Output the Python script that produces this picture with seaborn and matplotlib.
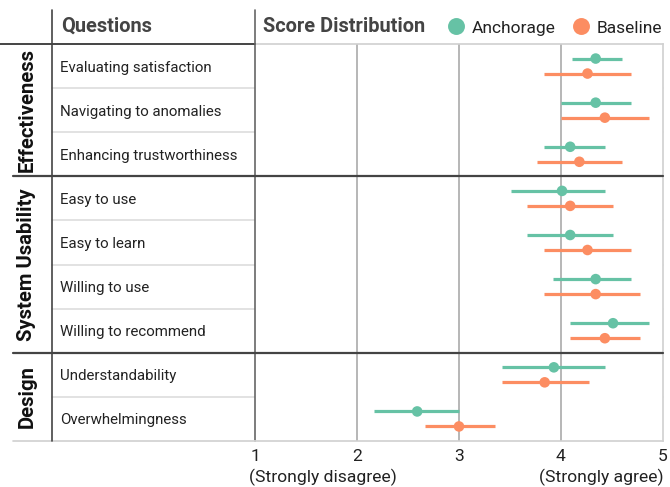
import matplotlib
matplotlib.use("Agg")
import matplotlib.pyplot as plt
import matplotlib.transforms as mtrans
from matplotlib.lines import Line2D
import seaborn as sns
import pandas as pd
import numpy as np

questions = ["Evaluating satisfaction", "Navigating to anomalies", "Enhancing trustworthiness",
             "Easy to use", "Easy to learn", "Willing to use", "Willing to recommend",
             "Understandability", "Overwhelmingness"]
groups = ["Effectiveness", "System Usability", "Design"]
group_sizes = [3, 4, 2]

anch_mean = [4.34, 4.34, 4.09, 4.01, 4.09, 4.34, 4.51, 3.93, 2.59]
anch_lo   = [4.11, 4.00, 3.83, 3.51, 3.67, 3.92, 4.09, 3.42, 2.17]
anch_hi   = [4.60, 4.69, 4.43, 4.43, 4.51, 4.69, 4.86, 4.43, 3.00]
base_mean = [4.26, 4.43, 4.18, 4.09, 4.26, 4.34, 4.43, 3.84, 3.00]
base_lo   = [3.83, 4.00, 3.76, 3.67, 3.83, 3.83, 4.09, 3.42, 2.67]
base_hi   = [4.69, 4.86, 4.60, 4.51, 4.69, 4.77, 4.77, 4.27, 3.35]

xticks = [1, 2, 3, 4, 5]
xtick_labels = ["1", "2", "3", "4", "5"]
series = ["Anchorage", "Baseline"]
colors = {"Anchorage": "#66c2a5", "Baseline": "#fc8d62"}

sns.set_theme(style="white")
plt.rcParams["font.family"] = ["Roboto", "DejaVu Sans"]

W, H = 670, 487
fig = plt.figure(figsize=(W / 100, H / 100), dpi=100)

def fx(px):
    return px / W

def fy(py):
    return 1 - py / H

L, R, T, B = 255, 663, 44, 441
ax = fig.add_axes([fx(L), fy(B), fx(R - L), (B - T) / H])

off = 0.17
rows = np.arange(len(questions))
df = pd.DataFrame({
    "row": np.concatenate([rows - off, rows + off]),
    "mean": anch_mean + base_mean,
    "lo": anch_lo + base_lo,
    "hi": anch_hi + base_hi,
    "series": ["Anchorage"] * len(questions) + ["Baseline"] * len(questions),
})

for s in series:
    d = df[df.series == s]
    ax.hlines(d["row"], d["lo"], d["hi"], color=colors[s], lw=2.3, zorder=3)
sns.scatterplot(data=df, x="mean", y="row", hue="series", palette=colors,
                s=58, edgecolor="none", zorder=4, ax=ax)

ax.set_xlim(1, 5)
ax.set_ylim(len(questions) - 0.5, -0.5)
ax.set_xticks(xticks, labels=xtick_labels)
ax.set_yticks(rows, labels=questions)
ax.tick_params(axis="y", length=0, pad=140.4, labelsize=10.8, labelcolor="#222222")
for t in ax.get_yticklabels():
    t.set_horizontalalignment("left")
ax.tick_params(axis="x", length=0, pad=6, labelsize=12.6, labelcolor="#222222")
ax.set_xlabel("")
ax.set_ylabel("")

for x in [2, 3, 4]:
    ax.axvline(x, color="#aaaaaa", lw=1.2, zorder=1)
for sp in ["top", "right", "bottom"]:
    ax.spines[sp].set_color("#d0d0d0")
    ax.spines[sp].set_linewidth(1.2)
ax.spines["left"].set_color("#666666")
ax.spines["left"].set_linewidth(1.2)

# row separators
blend = mtrans.blended_transform_factory(fig.transFigure, ax.transData)
bounds = np.cumsum(group_sizes)[:-1]
for i in range(1, len(questions)):
    if i in bounds:
        fig.add_artist(Line2D([fx(13), fx(R)], [i - 0.5, i - 0.5], transform=blend,
                              color="#444444", lw=1.6, zorder=5))
    else:
        fig.add_artist(Line2D([fx(52), fx(R)], [i - 0.5, i - 0.5], transform=blend,
                              color="#dddddd", lw=1.2, zorder=0))
# bottom line
fig.add_artist(Line2D([fx(13), fx(L)], [fy(B), fy(B)], color="#d0d0d0", lw=1.2))
# header line
fig.add_artist(Line2D([fx(0), fx(L)], [fy(T), fy(T)], color="#444444", lw=1.4))
# vertical lines
fig.add_artist(Line2D([fx(52), fx(52)], [fy(10), fy(B)], color="#444444", lw=1.2))
fig.add_artist(Line2D([fx(L), fx(L)], [fy(10), fy(T)], color="#666666", lw=1.2))

# group labels
start = 0
for g, n in zip(groups, group_sizes):
    c = start + (n - 1) / 2
    fig.text(fx(27), c, g, transform=blend, rotation=90, ha="center", va="center",
             fontsize=14.6, fontweight="bold", color="#111111")
    start += n

# headers
fig.text(fx(61), fy(26), "Questions", ha="left", va="center", fontsize=14.4,
         fontweight="bold", color="#444444")
fig.text(fx(263), fy(26), "Score Distribution", ha="left", va="center", fontsize=14.4,
         fontweight="bold", color="#444444")

# axis end annotations
fig.text(fx(249), fy(477), "(Strongly disagree)", ha="left", va="center",
         fontsize=12.6, color="#222222")
fig.text(fx(664), fy(477), "(Strongly agree)", ha="right", va="center",
         fontsize=12.6, color="#222222")

sns.move_legend(ax, "center right", bbox_to_anchor=(fx(678), fy(28)),
                bbox_transform=fig.transFigure, ncol=2, frameon=False, title=None,
                fontsize=12.5, markerscale=1.6, handletextpad=-0.1, columnspacing=0.5)
for t in ax.get_legend().get_texts():
    t.set_color("#222222")

fig.savefig("out.png", dpi=100)
